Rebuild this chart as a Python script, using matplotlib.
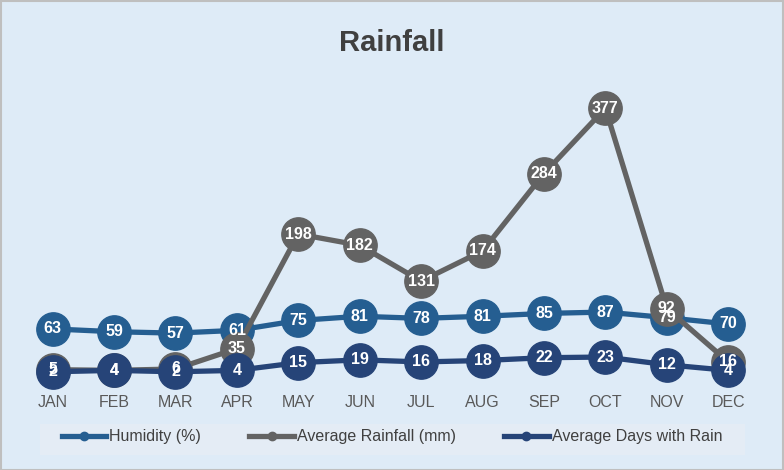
import matplotlib
matplotlib.use("Agg")
import matplotlib.pyplot as plt
from matplotlib.lines import Line2D
from matplotlib.patches import Rectangle

months = ["JAN", "FEB", "MAR", "APR", "MAY", "JUN", "JUL", "AUG", "SEP", "OCT", "NOV", "DEC"]
humidity = [63, 59, 57, 61, 75, 81, 78, 81, 85, 87, 79, 70]
rainfall = [5, 4, 6, 35, 198, 182, 131, 174, 284, 377, 92, 16]
rain_days = [2, 4, 2, 4, 15, 19, 16, 18, 22, 23, 12, 4]
series_names = ["Humidity (%)", "Average Rainfall (mm)", "Average Days with Rain"]
colors = ["#255E91", "#636363", "#264478"]

plt.rcParams['font.family'] = ['Liberation Sans', 'DejaVu Sans']

fig = plt.figure(figsize=(7.84, 4.70), dpi=100)
fig.patch.set_facecolor("#DEEBF7")
fig.patches.append(Rectangle((0.001, 0.001), 0.998, 0.997, transform=fig.transFigure,
                             fill=False, edgecolor="#BFBFBF", linewidth=1.5))

ax = fig.add_axes([0.028, 0.206, 0.940, 0.598])
ax.set_facecolor("#DEEBF7")
x = list(range(len(months)))
for vals, c, name, z in zip([humidity, rainfall, rain_days], colors, series_names, [2, 3, 4]):
    ax.plot(x, vals, color=c, linewidth=3.8, marker='o', markersize=24,
            markerfacecolor=c, markeredgecolor=c, zorder=z, label=name, clip_on=False)
for vals in [humidity, rainfall, rain_days]:
    for xi, v in zip(x, vals):
        ax.text(xi, v, str(v), ha='center', va='center', color='white',
                fontsize=11.5, fontweight='bold', zorder=10)

ax.set_xlim(-0.5, len(months) - 0.5)
ax.set_ylim(0, 400)
ax.set_xticks(x)
ax.set_xticklabels(months, fontsize=11.5, color="#595959")
ax.tick_params(axis='x', length=0, pad=16)
ax.set_yticks([])
for s in ax.spines.values():
    s.set_visible(False)

fig.text(0.5, 0.908, "Rainfall", ha='center', va='center', fontsize=21,
         fontweight='bold', color="#404040")

# legend background
fig.patches.append(Rectangle((40 / 784, 1 - 455 / 470), 705 / 784, 31 / 470,
                             transform=fig.transFigure, facecolor="#E4ECF5",
                             edgecolor='none', zorder=0))
handles = [Line2D([0], [0], color=c, linewidth=3.8, marker='o', markersize=6) for c in colors]
leg = fig.legend(handles, series_names, loc='center', bbox_to_anchor=(0.5, 1 - 437 / 470),
                 ncol=3, frameon=False, fontsize=11.5, handlelength=2.8,
                 columnspacing=3.0, handletextpad=0.2)
for t in leg.get_texts():
    t.set_color("#404040")

fig.savefig("out.png", dpi=100, facecolor=fig.get_facecolor())
